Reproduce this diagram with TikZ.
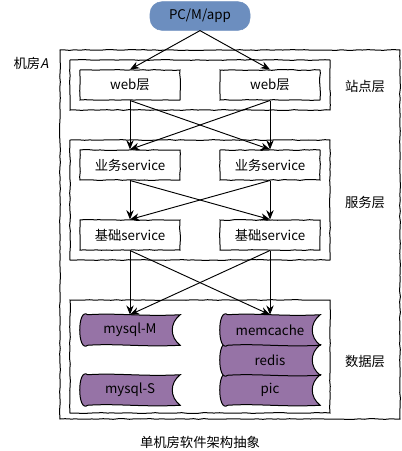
\documentclass[tikz,border=0pt]{standalone}
\usepackage{fontspec}
\setmainfont{Noto Sans CJK SC}
\newfontfamily\slfont{Noto Sans CJK SC}[FakeSlant=0.2]
\usetikzlibrary{arrows.meta,fit,backgrounds,decorations.pathmorphing}
\definecolor{cloudblue}{HTML}{6C8EBF}
\definecolor{dbpurple}{HTML}{9673A6}
\newcommand\dbshape[1]{%
  \draw[dbsty] ([xshift=6pt]#1.north west)
    .. controls ([xshift=28pt,yshift=1.5pt]#1.north west) and ([xshift=-28pt,yshift=-1.5pt]#1.north east) .. (#1.north east)
    .. controls ([xshift=-8pt,yshift=-6pt]#1.north east) and ([xshift=-8pt,yshift=6pt]#1.south east) .. (#1.south east)
    .. controls ([xshift=-28pt,yshift=-1.5pt]#1.south east) and ([xshift=28pt,yshift=1.5pt]#1.south west) .. ([xshift=6pt]#1.south west)
    .. controls ([xshift=-2pt,yshift=-6pt]#1.south west) and ([xshift=-2pt,yshift=6pt]#1.north west) .. cycle;}
\begin{document}
\begin{tikzpicture}[x=0.75pt,y=-0.75pt,
  txt/.style={font=\fontsize{10}{12}\selectfont, text=black},
  sketch/.style={decorate,decoration={random steps,segment length=4pt,amplitude=0.3pt}},
  frame/.style={draw=black, line width=0.75pt, inner sep=0pt, sketch},
  box/.style={txt, draw=black, line width=0.75pt, minimum width=75pt, minimum height=22.5pt, inner sep=0pt, sketch},
  dbtext/.style={txt, minimum width=75pt, minimum height=22.5pt, inner sep=0pt},
  dbsty/.style={fill=dbpurple, draw=black, line width=0.75pt},
  cloud/.style={txt, fill=cloudblue, draw=cloudblue, rounded corners=9pt, minimum width=75pt, minimum height=21.5pt, inner sep=0pt},
  arr/.style={-{Stealth[length=7pt,width=5.5pt]}, line width=0.7pt},
  lbl/.style={txt}]
\useasboundingbox (0,0) rectangle (401,451);

% frames
\node[frame, fit={(60,50) (400,419)}] (room) {};
\node[frame, fit={(70,60) (330,110)}] (siteF) {};
\node[frame, fit={(70,140) (330,260)}] (servF) {};
\node[frame, fit={(70,300) (330,413)}] (dataF) {};

% labels
\node[lbl] (roomL) at (31,63) {机房{\slfont A}};
\node[lbl] (siteL) at (365,86) {站点层};
\node[lbl] (servL) at (365,202) {服务层};
\node[lbl] (dataL) at (365,361) {数据层};
\node[lbl] (cap) at (200,442) {单机房软件架构抽象};

% client
\node[cloud] (pc) at (200,16) {PC/M/app};

% boxes
\node[box] (webL) at (130,85) {web层};
\node[box] (webR) at (270,85) {web层};
\node[box] (bizL) at (130,165) {业务service};
\node[box] (bizR) at (270,165) {业务service};
\node[box] (baseL) at (130,235) {基础service};
\node[box] (baseR) at (270,235) {基础service};

% data nodes
\node[dbtext] (mysqlM) at (130,330) {mysql-M};
\node[dbtext] (mysqlS) at (130,390) {mysql-S};
\node[dbtext] (memc) at (270,330) {memcache};
\node[dbtext] (redis) at (270,360) {redis};
\node[dbtext] (pic) at (270,390) {pic};
\begin{scope}[on background layer]
  \fill[white] (0,0) rectangle (401,451);
  \dbshape{mysqlM}
  \dbshape{mysqlS}
  \dbshape{pic}
  \dbshape{redis}
  \dbshape{memc}
\end{scope}

% arrows
\draw[arr] (pc.south) -- (webL.north);
\draw[arr] (pc.south) -- (webR.north);
\draw[arr] (webL.south) -- (bizL.north);
\draw[arr] (webL.south) -- (bizR.north);
\draw[arr] (webR.south) -- (bizL.north);
\draw[arr] (webR.south) -- (bizR.north);
\draw[arr] (bizL.south) -- (baseL.north);
\draw[arr] (bizL.south) -- (baseR.north);
\draw[arr] (bizR.south) -- (baseL.north);
\draw[arr] (bizR.south) -- (baseR.north);
\draw[arr] (baseL.south) -- (mysqlM.north);
\draw[arr] (baseL.south) -- (memc.north);
\draw[arr] (baseR.south) -- (mysqlM.north);
\draw[arr] (baseR.south) -- (memc.north);
\end{tikzpicture}
\end{document}
